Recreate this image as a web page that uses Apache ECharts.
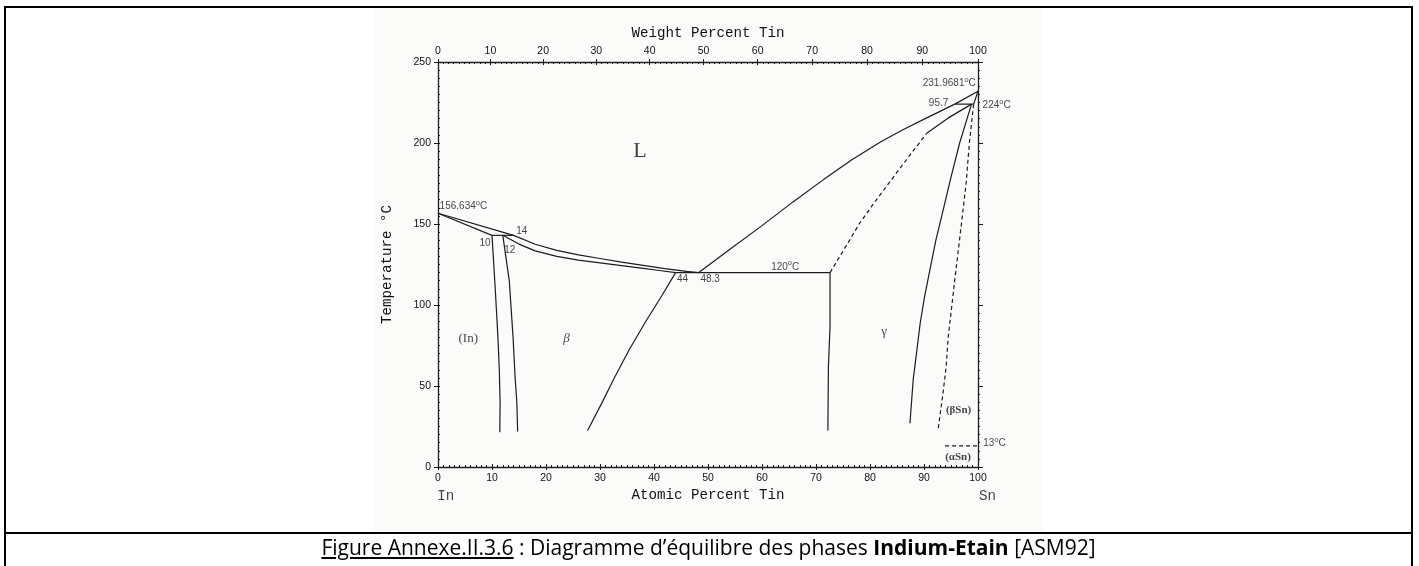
<!DOCTYPE html>
<html>
<head>
<meta charset="utf-8">
<script src="https://cdn.jsdelivr.net/npm/echarts@6/dist/echarts.min.js"></script>
<style>
  html, body { margin: 0; padding: 0; width: 1419px; height: 566px; overflow: hidden; background: #fff; }
  #frame { position: absolute; left: 4px; top: 6px; width: 1405px; height: 620px;
           border: 2px solid #000; border-bottom: none; box-sizing: content-box; }
  #sep { position: absolute; left: 4px; top: 532px; width: 1409px; height: 2px; background: #000; }
  #plate { position: absolute; left: 374px; top: 8px; width: 669px; height: 524px; background: #fbfcfa; }
  #chart { position: absolute; left: 0; top: 0; width: 1419px; height: 566px; }
  #caption { position: absolute; left: 6px; top: 534px; width: 1405px; height: 26px;
             text-align: center; font-family: "Open Sans", "Liberation Sans", sans-serif;
             font-size: 21px; line-height: 26px; color: #000; white-space: nowrap; }
  #caption u { text-decoration: underline; text-underline-offset: 2px; }
</style>
</head>
<body>
<div id="frame"></div>
<div id="plate"></div>
<div id="chart"></div>
<div id="sep"></div>
<div id="caption"><u>Figure Annexe.II.3.6</u> : Diagramme d’équilibre des phases <b>Indium-Etain</b> [ASM92]</div>
<script>
// ---- axis ticks ----
const atomicTicks = [0, 10, 20, 30, 40, 50, 60, 70, 80, 90, 100];
const weightTicks = [0, 10, 20, 30, 40, 50, 60, 70, 80, 90, 100];
const tempTicks = [0, 50, 100, 150, 200, 250];

// ---- phase boundaries: [at.% Sn, °C] ----
const inSolidus = [[0, 156.634], [10, 143]];
const inLiquidus = [[0, 156.634], [14, 143], [18, 137.5], [22, 133.7], [26, 130.9], [30, 128.7],
                    [34, 126.5], [38, 124.5], [42, 122.5], [46, 120.8], [48.3, 120]];
const peritectic143 = [[10, 143], [14, 143]];
const inSolvus = [[10, 143], [10.6, 110], [11.1, 80], [11.35, 60], [11.5, 40], [11.45, 21.5]];
const betaLeft = [[12, 143], [13.2, 115], [13.9, 80], [14.3, 54], [14.6, 40], [14.75, 22]];
const betaSolidus = [[12, 143], [15, 137.6], [18, 133.4], [22, 130], [26, 127.7], [30, 126],
                     [34, 124.3], [38, 122.6], [41, 121.3], [44, 120]];
const betaRight = [[44, 120], [41.5, 106], [38.5, 90], [35.4, 72.4], [32.5, 54], [30.5, 40.5], [27.7, 22.5]];
const eutectic120 = [[44, 120], [72.6, 120]];
const gammaLeft = [[72.6, 120], [72.6, 87], [72.4, 86], [72.3, 62], [72.2, 22.5]];
const gammaLiquidus = [[48.3, 120], [54, 134.3], [60, 149], [65.8, 163.8], [71.4, 177.4], [76.5, 189.3],
                       [81.85, 200.5], [86, 208], [90.5, 215.5], [95.7, 224]];
const peritectic224 = [[95.7, 224], [99.2, 224]];
const snLiquidus = [[95.7, 224], [100, 231.9681]];
const snSolidus = [[99.2, 224], [100, 231.9681]];
const gammaSolidusDashed = [[72.6, 120], [75.5, 136], [78.1, 150.6], [81.2, 165], [84, 177.5], [87.5, 193], [90.5, 206]];
const gammaSolidusTop = [[90.5, 206], [94.5, 215.5], [98.8, 224]];
const gammaSolvus = [[98.8, 224], [96.6, 200], [94.9, 177.5], [93.5, 158], [92.2, 140], [91.1, 121.8],
                     [90.1, 105], [89.3, 88.9], [88.6, 70], [88, 53.9], [87.4, 27]];
const betaSnSolvus = [[99.2, 224], [98.4, 200], [97.8, 175], [97.1, 155], [96.4, 135], [95.7, 115.6],
                      [95.1, 98], [94.5, 80.6], [94.1, 62], [93.5, 45], [92.65, 24]];
const alphaBeta13 = [[93.9, 13], [100, 13]];

// ---- annotations ----
const noteText = ['L', '(In)', 'β', 'γ', '(βSn)', '(αSn)', '156.634{s|o}C', '10', '12', '14', '44', '48.3',
                  '120{s|o}C', '95.7', '231.9681{s|o}C', '224{s|o}C', '13{s|o}C', 'In', 'Sn'];
const noteAt = [[37.4, 194.8], [5.6, 79], [23.8, 79], [82.6, 83.7], [96.4, 34.9], [96.3, 6.2],
                [0.3, 160.9], [8.7, 138.3], [13.3, 134.1], [15.5, 145.4], [45.3, 116], [50.4, 116],
                [64.3, 123.5], [92.7, 224.3], [99.6, 236.7], [100.85, 223], [100.95, 14.4],
                [1.45, -18.1], [101.75, -18.1]];

// weight % Sn -> atomic % Sn (In 114.82, Sn 118.71)
const M_IN = 114.82, M_SN = 118.71;
function toAtomic(w) {
  const a = w / M_SN, b = (100 - w) / M_IN;
  return a / (a + b) * 100;
}
const weightMajorAt = weightTicks.map(toAtomic);
const weightMinorAt = [];
for (let w = 0; w <= 100; w++) weightMinorAt.push(toAtomic(w));

const INK = '#1c1c1c';
const numFont = 'Liberation Sans';
const titleFont = 'Liberation Mono';

const chart = echarts.init(document.getElementById('chart'), null, { renderer: 'canvas' });

function axisBase(extra) {
  return Object.assign({
    type: 'value', min: 0, max: 100, gridIndex: 0,
    axisLine: { show: false, onZero: false },
    axisTick: { show: false },
    axisLabel: { show: false },
    splitLine: { show: false },
    minorTick: { show: false },
    minorSplitLine: { show: false },
    nameMoveOverlap: false
  }, extra);
}

const labelStyle = { color: '#111', fontFamily: numFont, fontSize: 10.5 };

const xAxes = [
  // bottom: atomic percent, labels + outward major ticks
  axisBase({
    position: 'bottom', interval: 10,
    axisLine: { show: true, onZero: false, lineStyle: { color: INK, width: 1.3 } },
    axisTick: { show: true, inside: false, length: 3, lineStyle: { color: INK, width: 1 } },
    axisLabel: Object.assign({ show: true, margin: 6, customValues: atomicTicks }, labelStyle),
    name: 'Atomic Percent Tin', nameLocation: 'middle', nameGap: 21,
    nameTextStyle: { color: '#111', fontFamily: titleFont, fontSize: 14.2 }
  }),
  // bottom: inward major + minor ticks
  axisBase({
    position: 'bottom', interval: 10,
    axisTick: { show: true, inside: true, length: 3, lineStyle: { color: INK, width: 1 } },
    minorTick: { show: true, splitNumber: 10, length: 2, lineStyle: { color: INK, width: 1 } }
  }),
  // top: weight percent labels and inward major ticks
  axisBase({
    position: 'top',
    axisLine: { show: true, onZero: false, lineStyle: { color: INK, width: 1.3 } },
    axisTick: { show: true, inside: true, length: 3, customValues: weightMajorAt, lineStyle: { color: INK, width: 1 } },
    axisLabel: Object.assign({
      show: true, margin: 5, customValues: weightMajorAt,
      formatter: function (v) {
        let best = 0, d = Infinity;
        weightMajorAt.forEach(function (a, i) { if (Math.abs(a - v) < d) { d = Math.abs(a - v); best = i; } });
        return String(weightTicks[best]);
      }
    }, labelStyle),
    name: 'Weight Percent Tin', nameLocation: 'middle', nameGap: 22,
    nameTextStyle: { color: '#111', fontFamily: titleFont, fontSize: 14.2 }
  }),
  // top: outward major ticks
  axisBase({
    position: 'top',
    axisTick: { show: true, inside: false, length: 3, customValues: weightMajorAt, lineStyle: { color: INK, width: 1 } }
  }),
  // top: one tick per weight percent, inward
  axisBase({
    position: 'top',
    axisTick: { show: true, inside: true, length: 2, customValues: weightMinorAt, lineStyle: { color: INK, width: 1 } }
  })
];

function yBase(extra) {
  return Object.assign({
    type: 'value', min: 0, max: 250, interval: 50, gridIndex: 0,
    axisLine: { show: false, onZero: false },
    axisTick: { show: false },
    axisLabel: { show: false },
    splitLine: { show: false },
    minorTick: { show: false },
    minorSplitLine: { show: false },
    nameMoveOverlap: false
  }, extra);
}

const yAxes = [
  yBase({
    position: 'left',
    axisLine: { show: true, onZero: false, lineStyle: { color: INK, width: 1.3 } },
    axisTick: { show: true, inside: false, length: 4, lineStyle: { color: INK, width: 1 } },
    axisLabel: Object.assign({ show: true, margin: 7, customValues: tempTicks }, labelStyle),
    name: 'Temperature °C', nameLocation: 'middle', nameGap: 44,
    nameTextStyle: { color: '#111', fontFamily: titleFont, fontSize: 14.2 }
  }),
  yBase({
    position: 'left',
    axisTick: { show: true, inside: true, length: 2, lineStyle: { color: INK, width: 1 } },
    minorTick: { show: true, splitNumber: 10, length: 2, lineStyle: { color: INK, width: 1 } }
  }),
  yBase({
    position: 'right',
    axisLine: { show: true, onZero: false, lineStyle: { color: INK, width: 1.3 } },
    axisTick: { show: true, inside: false, length: 5, lineStyle: { color: INK, width: 1 } },
    minorTick: { show: true, splitNumber: 10, length: 2, lineStyle: { color: INK, width: 1 } }
  })
];

function boundary(data, dashed) {
  return {
    type: 'line', data: data, xAxisIndex: 0, yAxisIndex: 0,
    symbol: 'none', silent: true, animation: false, clip: false,
    lineStyle: { color: INK, width: 1.2, type: dashed ? [4, 3] : 'solid' }
  };
}

const solid = [inSolidus, inLiquidus, peritectic143, inSolvus, betaLeft, betaSolidus, betaRight,
               eutectic120, gammaLeft, gammaLiquidus, peritectic224, snLiquidus, snSolidus,
               gammaSolidusTop, gammaSolvus];
const dashed = [gammaSolidusDashed, betaSnSolvus, alphaBeta13];

const sup = { s: { fontSize: 7.5, padding: [0, 0, 7, 0], fontFamily: numFont, color: '#111' } };
function noteStyle(t) {
  if (t === 'L') return { fontFamily: 'Liberation Serif', fontSize: 22, color: '#111' };
  if (t === '(In)' || t === 'γ') return { fontFamily: 'Liberation Serif', fontSize: 13, color: '#111' };
  if (t === 'β') return { fontFamily: 'Liberation Serif', fontStyle: 'italic', fontSize: 13, color: '#111' };
  if (t === '(βSn)' || t === '(αSn)') return { fontFamily: 'Liberation Serif', fontWeight: 'bold', fontSize: 11, color: '#111' };
  if (t === 'In' || t === 'Sn') return { fontFamily: titleFont, fontSize: 14.2, color: '#111' };
  const st = { fontFamily: numFont, fontSize: 10, color: '#111', rich: sup };
  if (t.indexOf('156.634') === 0 || t.indexOf('224') === 0 || t.indexOf('13{') === 0) st.align = 'left';
  if (t.indexOf('231.9681') === 0) st.align = 'right';
  return st;
}

const notes = noteText.map(function (t, i) {
  return {
    value: noteAt[i],
    label: Object.assign({ show: true, position: 'inside', formatter: t }, noteStyle(t))
  };
});

const series = solid.map(function (d) { return boundary(d, false); })
  .concat(dashed.map(function (d) { return boundary(d, true); }))
  .concat([{
    type: 'scatter', data: notes, xAxisIndex: 0, yAxisIndex: 0,
    symbolSize: 0.1, itemStyle: { color: 'rgba(0,0,0,0)' },
    silent: true, animation: false, clip: false, z: 10
  }]);

chart.setOption({
  animation: false,
  backgroundColor: 'transparent',
  grid: { left: 438, top: 62, width: 540, height: 405, containLabel: false, outerBoundsMode: 'none' },
  xAxis: xAxes,
  yAxis: yAxes,
  series: series
});
</script>
</body>
</html>
